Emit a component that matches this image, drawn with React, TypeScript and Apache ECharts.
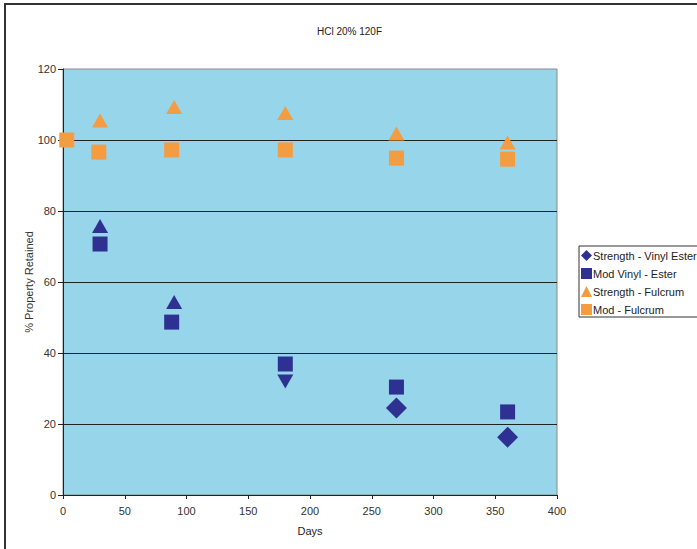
import React, { useEffect, useRef } from "react";
import * as echarts from "echarts";

const seriesNames = ["Strength - Vinyl Ester", "Mod Vinyl - Ester", "Strength - Fulcrum", "Mod - Fulcrum"];

const strengthVEDays = [30, 90, 180, 270, 360];
const strengthVEValues = [75.8, 54.4, 32.0, 24.5, 16.3];
const strengthVESymbols = ["triangle", "triangle", "triangle-down", "diamond", "diamond"];

const modVEDays = [30, 88, 180, 270, 360];
const modVEValues = [70.7, 48.7, 36.9, 30.4, 23.4];

const strengthFDays = [30, 90, 180, 270, 360];
const strengthFValues = [105.5, 109.3, 107.6, 101.8, 99.3];

const modFDays = [3, 29, 88, 180, 270, 360];
const modFValues = [100, 96.6, 97.2, 97.2, 94.9, 94.6];

const xTicks = { min: 0, max: 400, interval: 50 };
const yTicks = { min: 0, max: 120, interval: 20 };

const DARK = "#2E3192";
const ORANGE = "#F39C42";
const FONT = "Liberation Sans";

function pairs(xs: number[], ys: number[]) {
  return xs.map((x, i) => [x, ys[i]]);
}

export default function App() {
  const ref = useRef<HTMLDivElement>(null);
  useEffect(() => {
    if (!ref.current) return;
    const chart = echarts.init(ref.current, undefined, { renderer: "svg" });
    const symSize = (s: string) => (s === "diamond" ? 21 : [16, 14]);
    chart.setOption({
      animation: false,
      backgroundColor: "#ffffff",
      title: {
        text: "HCl 20% 120F",
        left: 312,
        top: 21,
        textStyle: { fontSize: 10, fontWeight: "normal", color: "#222", fontFamily: FONT },
      },
      graphic: [
        {
          type: "rect",
          shape: { x: 5, y: 4, width: 800, height: 700 },
          style: { fill: "none", stroke: "#333", lineWidth: 2 },
          silent: true,
        },
      ],
      legend: {
        orient: "vertical",
        left: 579,
        top: 246,
        padding: [4, 40, 2, 2],
        itemGap: 7,
        itemWidth: 11,
        itemHeight: 11,
        borderColor: "#333",
        borderWidth: 1,
        textStyle: { fontSize: 11, color: "#222", fontFamily: FONT, padding: [0, 0, 0, -4] },
        data: [
          { name: seriesNames[0], icon: "diamond" },
          { name: seriesNames[1], icon: "rect" },
          { name: seriesNames[2], icon: "triangle" },
          { name: seriesNames[3], icon: "rect" },
        ],
      },
      grid: {
        left: 63,
        top: 69,
        width: 494,
        height: 426,
        show: true,
        backgroundColor: "#97D5EA",
        borderColor: "#8a8a8a",
        borderWidth: 1,
      },
      xAxis: {
        type: "value",
        ...xTicks,
        name: "Days",
        nameLocation: "middle",
        nameGap: 30,
        nameMoveOverlap: false,
        nameTextStyle: { fontSize: 11, color: "#222", fontFamily: FONT },
        axisLine: { show: true, lineStyle: { color: "#222", width: 1 } },
        axisTick: { show: true, length: 4, lineStyle: { color: "#222" } },
        axisLabel: { fontSize: 11, color: "#333", fontFamily: FONT, margin: 10 },
        splitLine: { show: false },
      },
      yAxis: {
        type: "value",
        ...yTicks,
        name: "% Property Retained",
        nameLocation: "middle",
        nameGap: 29,
        nameMoveOverlap: false,
        nameTextStyle: { fontSize: 11, color: "#333", fontFamily: FONT },
        axisLine: { show: true, lineStyle: { color: "#222", width: 1 } },
        axisTick: { show: true, length: 5, lineStyle: { color: "#222" } },
        axisLabel: { fontSize: 11, color: "#333", fontFamily: FONT, margin: 7 },
        splitLine: { show: true, showMaxLine: false, showMinLine: false, lineStyle: { color: "#222", width: 1 } },
      },
      series: [
        {
          name: seriesNames[0],
          type: "scatter",
          symbol: "diamond",
          itemStyle: { color: DARK, opacity: 1 },
          data: pairs(strengthVEDays, strengthVEValues).map((v, i) => {
            const s = strengthVESymbols[i];
            return {
              value: v,
              symbol: s === "triangle-down" ? "triangle" : s,
              symbolRotate: s === "triangle-down" ? 180 : 0,
              symbolSize: symSize(s),
            };
          }),
        },
        {
          name: seriesNames[1],
          type: "scatter",
          symbol: "rect",
          symbolSize: 15,
          itemStyle: { color: DARK, opacity: 1 },
          data: pairs(modVEDays, modVEValues),
        },
        {
          name: seriesNames[2],
          type: "scatter",
          symbol: "triangle",
          symbolSize: [16, 14],
          itemStyle: { color: ORANGE, opacity: 1 },
          data: pairs(strengthFDays, strengthFValues),
        },
        {
          name: seriesNames[3],
          type: "scatter",
          symbol: "rect",
          symbolSize: 15,
          itemStyle: { color: ORANGE, opacity: 1 },
          data: pairs(modFDays, modFValues),
        },
      ],
    });
    return () => chart.dispose();
  }, []);
  return (
    <div
      ref={ref}
      style={{ position: "fixed", left: 0, top: 0, width: 697, height: 549 }}
    />
  );
}
